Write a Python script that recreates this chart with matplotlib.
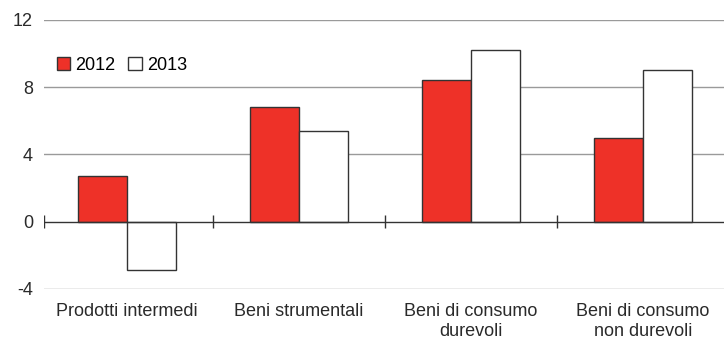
import numpy as np
from matplotlib import pyplot as plt
from matplotlib.patches import Patch

categories = ["Prodotti intermedi", "Beni strumentali",
              "Beni di consumo\ndurevoli", "Beni di consumo\nnon durevoli"]
values_2012 = [2.7, 6.8, 8.4, 4.95]
values_2013 = [-2.85, 5.4, 10.2, 9.0]
y_ticks = [-4, 0, 4, 8, 12]

plt.rcParams["font.family"] = ["Liberation Sans Narrow", "Liberation Sans", "DejaVu Sans"]

red = "#ee3128"
edge = "#333333"

fig = plt.figure(figsize=(7.24, 3.44), dpi=100)
ax = fig.add_axes([0.0608, 0.16, 0.9392, 0.782])

x = np.arange(len(categories))
w = 0.285
ax.bar(x - w / 2, values_2012, w, color=red, edgecolor=edge, linewidth=1.0, zorder=3)
ax.bar(x + w / 2, values_2013, w, color="white", edgecolor=edge, linewidth=1.0, zorder=3)

ax.set_xlim(-0.483, 3.47)
ax.set_ylim(-4, 12)

# light grid, dark zero line with small crossing ticks
for y in y_ticks:
    if y != 0:
        ax.axhline(y, color="#9a9a9a", linewidth=1.0, zorder=1)
ax.axhline(0, color=edge, linewidth=1.0, zorder=4)
ax.vlines([-0.482, 0.5, 1.5, 2.5], -0.4, 0.4, color=edge, linewidth=1.0, zorder=4)

for s in ax.spines.values():
    s.set_visible(False)

ax.set_yticks(y_ticks)
ax.set_yticklabels([str(v) for v in y_ticks])
ax.tick_params(axis="y", length=0, pad=8, labelsize=13, labelcolor="#2a2a2a")
ax.set_xticks(x)
ax.set_xticklabels(categories, linespacing=1.25)
ax.tick_params(axis="x", length=0, pad=10, labelsize=13, labelcolor="#2a2a2a")

handles = [Patch(facecolor=red, edgecolor=edge, linewidth=1.0, label="2012"),
           Patch(facecolor="white", edgecolor=edge, linewidth=1.0, label="2013")]
ax.legend(handles=handles, loc="upper left", bbox_to_anchor=(0.0, 0.91), ncol=2,
          frameon=False, fontsize=13, handlelength=0.75, handleheight=0.75,
          handletextpad=0.3, columnspacing=0.7, borderaxespad=0.3)

fig.savefig("out.png", dpi=100)
